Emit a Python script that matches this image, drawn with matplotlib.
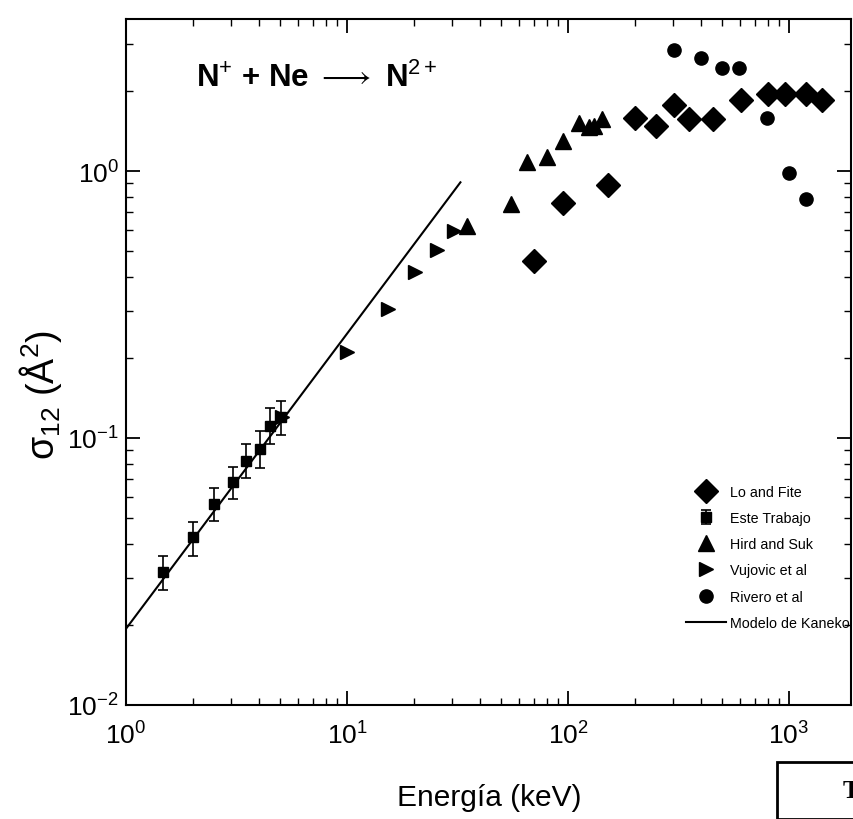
import numpy as np
import matplotlib
matplotlib.use("Agg")
import matplotlib.pyplot as plt
from matplotlib.patches import Rectangle

plt.rcParams['font.family'] = ['Liberation Sans', 'DejaVu Sans']
plt.rcParams['mathtext.fontset'] = 'custom'
plt.rcParams['mathtext.rm'] = 'Liberation Sans'
plt.rcParams['mathtext.it'] = 'Liberation Sans'
plt.rcParams['mathtext.bf'] = 'Liberation Sans:bold'

# Lo and Fite
lo_E = [70, 95, 151, 201, 251, 302, 352, 453, 604, 806, 960, 1195, 1406]
lo_s = [0.459, 0.76, 0.89, 1.58, 1.47, 1.77, 1.57, 1.57, 1.85, 1.95, 1.95, 1.95, 1.84]

# Este Trabajo (with error bars)
et_E = [1.47, 2.0, 2.51, 3.04, 3.49, 4.04, 4.48, 5.03]
et_s = [0.0314, 0.0425, 0.0566, 0.0683, 0.0822, 0.091, 0.111, 0.12]
et_lo = [0.0270, 0.0362, 0.0488, 0.0593, 0.0710, 0.0772, 0.0950, 0.103]
et_hi = [0.0360, 0.0484, 0.0648, 0.0780, 0.0950, 0.1060, 0.1300, 0.138]

# Hird and Suk
hs_E = [35, 55, 65, 80, 95, 112, 125, 131, 142]
hs_s = [0.62, 0.75, 1.08, 1.13, 1.29, 1.51, 1.46, 1.47, 1.56]

# Vujovic et al
vu_E = [5.1, 10, 15.4, 20.3, 25.5, 30.5]
vu_s = [0.12, 0.21, 0.304, 0.42, 0.506, 0.596]

# Rivero et al
ri_E = [301, 400, 499, 596, 798, 1000, 1195]
ri_s = [2.85, 2.65, 2.43, 2.43, 1.58, 0.98, 0.785]

# Modelo de Kaneko
ka_E = [1.0, 32.6]
ka_s = [0.0193, 0.907]

fig = plt.figure(figsize=(8.54, 8.2), dpi=100)
ax = fig.add_axes([126/854, 1-706/820, (851-126)/854, (706-20)/820])
ax.set_xscale('log')
ax.set_yscale('log')
ax.set_xlim(1, 10**((851-126)/221))
ax.set_ylim(0.01, 10**(152/267))

ax.plot(ka_E, ka_s, color='black', lw=1.5, label='Modelo de Kaneko', zorder=2)
ax.plot(lo_E, lo_s, 'D', color='black', ms=12, ls='none', label='Lo and Fite', zorder=3)
yerr = [np.array(et_s) - np.array(et_lo), np.array(et_hi) - np.array(et_s)]
ax.errorbar(et_E, et_s, yerr=yerr, fmt='s', color='black', ms=7, capsize=3.5,
            elinewidth=1.2, capthick=1.2, label='Este Trabajo', zorder=3)
ax.plot(hs_E, hs_s, '^', color='black', ms=12, ls='none', label='Hird and Suk', zorder=3)
ax.plot(vu_E, vu_s, '>', color='black', ms=10, ls='none', label='Vujovic et al', zorder=3)
ax.plot(ri_E, ri_s, 'o', color='black', ms=9.5, ls='none', label='Rivero et al', zorder=3)

for sp in ax.spines.values():
    sp.set_linewidth(1.5)
ax.tick_params(which='both', direction='in', top=True, right=True)
ax.tick_params(which='major', length=10, width=1.3, labelsize=19)
ax.tick_params(which='minor', length=5, width=1.0)
ax.tick_params(axis='x', which='major', pad=12)
ax.tick_params(axis='y', which='major', pad=5)

h, l = ax.get_legend_handles_labels()
order = ['Lo and Fite', 'Este Trabajo', 'Hird and Suk', 'Vujovic et al', 'Rivero et al', 'Modelo de Kaneko']
hd = dict(zip(l, h))
leg = ax.legend([hd[k] for k in order], order, loc='upper left',
                bbox_to_anchor=(686/854, 1-486/820), bbox_transform=fig.transFigure,
                frameon=False, fontsize=10.3, handlelength=2.8, handletextpad=0.3,
                labelspacing=0.85, borderpad=0, borderaxespad=0, numpoints=1)

fig.text(196/854, 1-78/820, r'N$^{+}$ + Ne $\longrightarrow$ N$^{2+}$', fontsize=22.5,
         fontweight='bold', va='center', ha='left')

fig.text(489/854, 1-798/820, 'Energía (keV)', fontsize=21.5, ha='center', va='center')
fig.text(40/854, 1-395/820, r'σ$_{12}$ (Å$^{2}$)', fontsize=27, rotation=90,
         ha='center', va='center')

fig.patches.append(Rectangle((777/854, 0), 0.2, 1-763/820, transform=fig.transFigure,
                             fill=False, lw=2, edgecolor='black'))
fig.text(843/854, 1-792/820, 'T', fontsize=18, fontweight='bold', family='Liberation Serif',
         ha='left', va='center')

fig.savefig('out.png', dpi=100)
